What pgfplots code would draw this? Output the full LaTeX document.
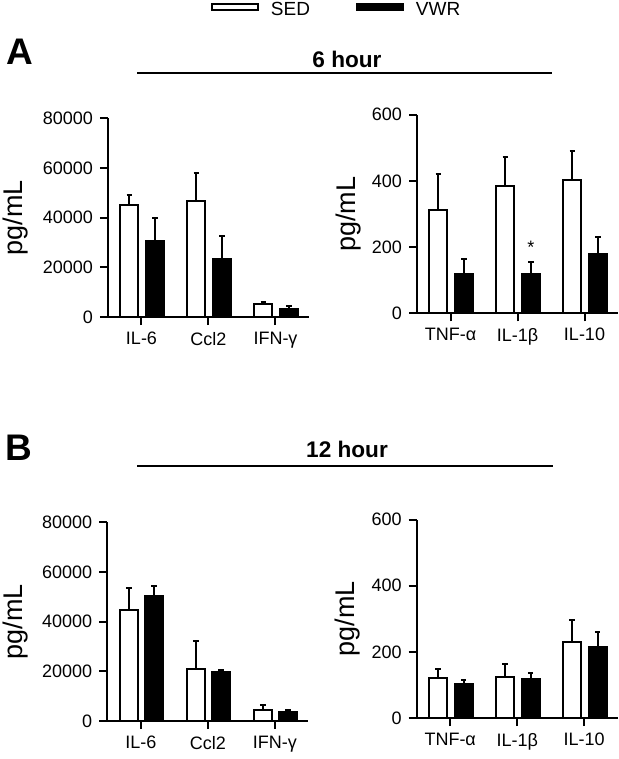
\documentclass[border=0pt]{standalone}
\usepackage{pgfplots}
\pgfplotsset{compat=1.18}
\usepackage{fontspec}
\setmainfont{Liberation Sans}
\begin{document}
\begin{tikzpicture}
\path[use as bounding box] (0,0) rectangle (309.5pt,-379.5pt);
\pgfplotsset{
  panel/.style={scale only axis, width=100.5pt, height=99.25pt,
    xmin=-0.5, xmax=2.5, ymin=0, axis lines*=left,
    axis line style={line width=1pt, black},
    every tick/.style={line width=1pt, black},
    tick align=outside, major tick length=4pt, xtick={0,1,2},
    ticklabel style={font=\fontsize{9}{10}\selectfont},
    /pgf/number format/assume math mode=true,
    /pgf/number format/1000 sep={}, scaled y ticks=false, clip=false,
    ylabel={pg/mL}, ylabel style={font=\fontsize{13.5}{15}\selectfont, anchor=center}},
  errs/.style={error bars/y dir=plus, error bars/y explicit,
    error bars/error mark=|,
    error bars/error bar style={line width=1pt, black},
    error bars/error mark options={line width=1pt, black, mark size=1.4pt}},
  sed/.style={ybar, bar width=0.27, bar shift=0pt, draw=black, fill=white, line width=1pt, errs, forget plot},
  vwr/.style={ybar, bar width=0.27, bar shift=0pt, draw=black, fill=black, line width=1pt, errs, forget plot},
  leftpanel/.style={panel, ymax=80000, ytick={0,20000,40000,60000,80000},
    xticklabels={IL-6, Ccl2, IFN-γ}, ylabel style={at={(rel axis cs:-0.458,0.5)}}},
  rightpanel/.style={panel, ymax=600, ytick={0,200,400,600},
    xticklabels={TNF-α, IL-1β, IL-10}, ylabel style={at={(rel axis cs:-0.343,0.5)}}}
}
% Panel A left
\begin{axis}[leftpanel, at={(54pt,-158.5pt)}, anchor=south west,
  legend columns=2,
  legend style={at={(rel axis cs:0.51,1.543)}, anchor=west, draw=none, fill=none,
    inner sep=0pt, font=\fontsize{9.5}{11}\selectfont,
    /tikz/every odd column/.append style={column sep=4pt},
    /tikz/every even column/.append style={column sep=21pt}}]
\addlegendimage{legend image code/.code={\draw[line width=1pt, black, fill=white] (0pt,0.5pt) rectangle (23pt,3.5pt);}}
\addlegendentry{SED}
\addlegendimage{legend image code/.code={\draw[line width=1pt, black, fill=black] (0pt,0.5pt) rectangle (23pt,3.5pt);}}
\addlegendentry{VWR}
\addplot[sed] coordinates {(-0.18,45300) +- (0,4000) (0.82,46800) +- (0,11200) (1.82,5400) +- (0,800)};
\addplot[vwr] coordinates {(0.2,30700) +- (0,9100) (1.2,23400) +- (0,9400) (2.2,3250) +- (0,1050)};
\end{axis}
% Panel A right
\begin{axis}[rightpanel, at={(208.5pt,-156.65pt)}, anchor=south west]
\addplot[sed] coordinates {(-0.18,312) +- (0,109) (0.82,385) +- (0,87) (1.82,403) +- (0,88)};
\addplot[vwr] coordinates {(0.2,118) +- (0,45) (1.2,118) +- (0,38) (2.2,178) +- (0,52)};
\node[font=\fontsize{9}{10}\selectfont] at (axis cs:1.2,200) {*};
\end{axis}
% Panel B left
\begin{axis}[leftpanel, at={(53.65pt,-360.5pt)}, anchor=south west]
\addplot[sed] coordinates {(-0.18,44700) +- (0,9100) (0.82,21000) +- (0,11300) (1.82,4300) +- (0,2300)};
\addplot[vwr] coordinates {(0.2,50400) +- (0,3900) (1.2,19600) +- (0,1100) (2.2,3650) +- (0,800)};
\end{axis}
% Panel B right
\begin{axis}[rightpanel, at={(208.35pt,-359pt)}, anchor=south west]
\addplot[sed] coordinates {(-0.18,120) +- (0,28) (0.82,123) +- (0,41) (1.82,230) +- (0,66)};
\addplot[vwr] coordinates {(0.2,103) +- (0,11) (1.2,119) +- (0,17) (2.2,214) +- (0,47)};
\end{axis}
% headings
\node[font=\fontsize{18.5}{20}\selectfont\bfseries] at (10pt,-26pt) {A};
\node[font=\fontsize{18.5}{20}\selectfont\bfseries] at (9.5pt,-224pt) {B};
\node[font=\fontsize{11.3}{13}\selectfont\bfseries] at (173.5pt,-29.5pt) {6 hour};
\draw[line width=1pt] (68.5pt,-36.5pt) -- (276pt,-36.5pt);
\node[font=\fontsize{11.3}{13}\selectfont\bfseries] at (173.5pt,-224.5pt) {12 hour};
\draw[line width=1pt] (68.5pt,-233pt) -- (276.5pt,-233pt);
\end{tikzpicture}
\end{document}
